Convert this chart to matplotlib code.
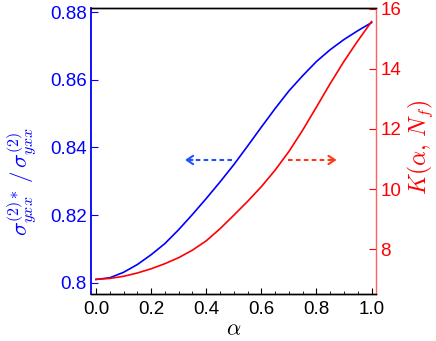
import matplotlib
matplotlib.use("Agg")
import matplotlib.pyplot as plt
from matplotlib.ticker import MultipleLocator

plt.rcParams['font.family'] = ['Liberation Sans', 'DejaVu Sans']
plt.rcParams['mathtext.fontset'] = 'cm'

alpha = [0.00, 0.05, 0.10, 0.15, 0.20, 0.25, 0.30, 0.35, 0.40, 0.45, 0.50,
         0.55, 0.60, 0.65, 0.70, 0.75, 0.80, 0.85, 0.90, 0.95, 1.00]
sigma_ratio = [0.8010, 0.8015, 0.8031, 0.8054, 0.8083, 0.8116, 0.8157, 0.8202,
               0.8249, 0.8298, 0.8349, 0.8404, 0.8460, 0.8515, 0.8567, 0.8612,
               0.8654, 0.8689, 0.8719, 0.8745, 0.8769]
K_vals = [7.00, 7.03, 7.10, 7.21, 7.35, 7.52, 7.72, 7.97, 8.28, 8.68, 9.13,
          9.59, 10.08, 10.63, 11.25, 11.96, 12.73, 13.51, 14.25, 14.93, 15.57]

left_ticks = [0.80, 0.82, 0.84, 0.86, 0.88]
left_ticklabels = ['0.8', '0.82', '0.84', '0.86', '0.88']
right_ticks = [8, 10, 12, 14, 16]
x_ticks = [0.0, 0.2, 0.4, 0.6, 0.8, 1.0]

blue = '#0000ff'
red = '#ff0000'

fig = plt.figure(figsize=(4.36, 3.41), dpi=100)
ax = fig.add_axes([0.2087, 0.1378, 0.6537, 0.8387])
ax2 = ax.twinx()

ax.plot(alpha, sigma_ratio, color=blue, lw=1.2, zorder=3)
ax2.plot(alpha, K_vals, color=red, lw=1.2, zorder=3)

ax.set_xlim(-0.018, 1.016)
ax.set_ylim(0.7967, 0.8812)
ax2.set_ylim(6.512, 16.02)

ax.set_xticks(x_ticks)
ax.set_xticklabels([f'{v:.1f}' for v in x_ticks])
ax.xaxis.set_minor_locator(MultipleLocator(0.05))
ax.set_yticks(left_ticks)
ax.set_yticklabels(left_ticklabels)
ax2.set_yticks(right_ticks)
ax2.set_yticklabels([str(v) for v in right_ticks])

fs = 13.5
ax.tick_params(axis='x', which='major', direction='in', length=4, width=0.8,
               labelsize=fs, colors='black', top=False, pad=5)
ax.tick_params(axis='x', which='minor', direction='in', length=2, width=0.6, top=False)
ax.tick_params(axis='y', which='major', direction='in', length=5, width=0.8,
               labelsize=fs, colors=blue, pad=3)
ax2.tick_params(axis='y', which='major', direction='in', length=5, width=0.8,
                labelsize=fs, colors=red, pad=3)
ax2.tick_params(axis='y', which='minor', right=False)

for a in (ax, ax2):
    a.spines['top'].set_color('black')
    a.spines['bottom'].set_color('black')
    a.spines['top'].set_linewidth(1.0)
    a.spines['bottom'].set_linewidth(1.0)
ax.spines['left'].set_color(blue)
ax.spines['left'].set_linewidth(1.3)
ax2.spines['left'].set_visible(False)
ax2.spines['right'].set_color('#ff6060')
ax2.spines['right'].set_linewidth(1.0)
ax.spines['right'].set_visible(False)

ax.set_xlabel(r'$\alpha$', fontsize=16, labelpad=1)
ax.set_ylabel(r'$\sigma^{(2)*}_{yxx}\,/\,\sigma^{(2)}_{yxx}$', fontsize=16.5,
              color=blue)
ax.yaxis.set_label_coords(-0.183, 0.395)
ax2.set_ylabel(r'$K(\alpha,\,N_f)$', fontsize=17, color=red)
ax2.yaxis.set_label_coords(1.105, 0.514)

# dashed arrows (annotations)
y_arr = 0.8363
ax.plot([0.492, 0.340], [y_arr, y_arr], color='#2050ff', lw=1.5, ls=(0, (2.2, 1.6)), zorder=4)
ax.annotate('', xy=(0.323, y_arr), xytext=(0.350, y_arr),
            arrowprops=dict(arrowstyle='->,head_length=0.45,head_width=0.3',
                            color='#2050ff', lw=1.5, shrinkA=0, shrinkB=0))
ax.plot([0.696, 0.856], [y_arr, y_arr], color='#ff3a1a', lw=1.5, ls=(0, (2.2, 1.6)), zorder=4)
ax.annotate('', xy=(0.873, y_arr), xytext=(0.846, y_arr),
            arrowprops=dict(arrowstyle='->,head_length=0.45,head_width=0.3',
                            color='#ff3a1a', lw=1.5, shrinkA=0, shrinkB=0))

fig.savefig('out.png', dpi=100)
